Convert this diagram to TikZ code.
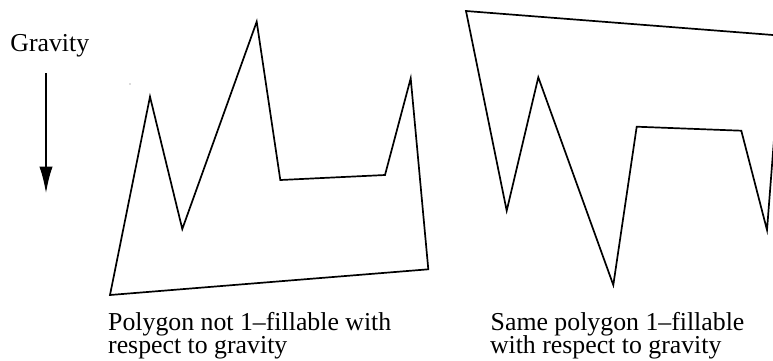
\documentclass[tikz,border=0pt]{standalone}
\usepackage{fontspec}
\setmainfont{Liberation Serif}
\usetikzlibrary{arrows.meta}
\tikzset{
  poly/.style={draw=black, line width=1.7pt, line join=miter},
  caption/.style={anchor=base west, inner sep=0pt, font=\fontsize{25.8}{21}\selectfont},
  gravarrow/.style={draw=black, line width=2pt, -{Latex[length=26.7pt,width=13.3pt]}}
}
\begin{document}
\begin{tikzpicture}[x=1pt,y=-1pt]
\useasboundingbox (0,0) rectangle (773,360);
% Gravity label and arrow
\node[caption] (grav) at (10.2,51.7) {Gravity};
\coordinate (gtop) at (46,73.3);
\coordinate (gbot) at (46,193.3);
\draw[gravarrow] (gtop) -- (gbot);
% Left polygon
\draw[poly] (110,295) -- (150,96.7) -- (182.3,229) -- (256.7,21.7) -- (280.3,180)
  -- (385,175) -- (410.7,78.3) -- (428.3,269.3) -- cycle;
\fill[black!60] (130,84) circle (0.6pt);
% Right polygon (clipped at right border)
\begin{scope}
\clip (0,0) rectangle (773,360);
\draw[poly] (466,11) -- (506.7,210.7) -- (538.3,77.3) -- (613.3,285) -- (636.7,126.7)
  -- (741.3,130.7) -- (767,230) -- (782,35.7) -- cycle;
\end{scope}
% Captions
\node[caption] (capL1) at (108,330.2) {Polygon not 1--fillable with};
\node[caption] (capL2) at (108,353.7) {respect to gravity};
\node[caption] (capR1) at (490.5,330.2) {Same polygon 1--fillable};
\node[caption] (capR2) at (489.8,353.7) {with respect to gravity};
\end{tikzpicture}
\end{document}
